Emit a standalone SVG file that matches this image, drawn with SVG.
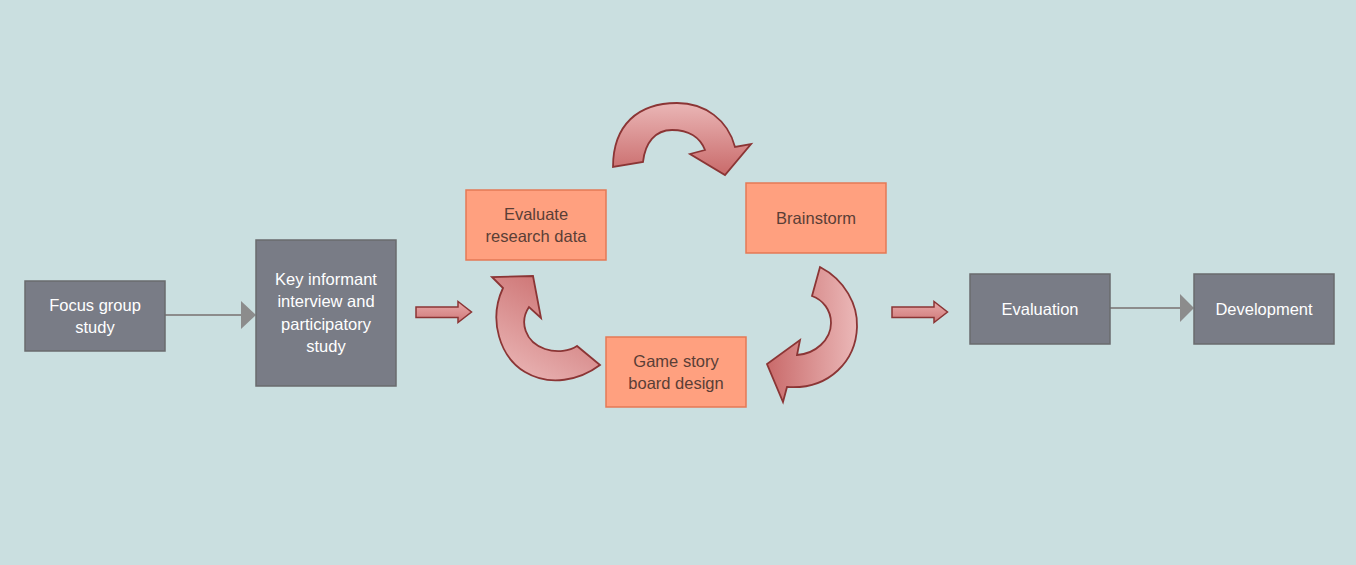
<svg xmlns="http://www.w3.org/2000/svg" width="1356" height="565" viewBox="0 0 1356 565">
<style>
.gbox{fill:#797c86;stroke:#6a6b6d;stroke-width:1.5}
.sbox{fill:#ffa07f;stroke:#e57955;stroke-width:1.5}
.gt{font-family:"Liberation Sans",Arial,sans-serif;font-size:16.5px;fill:#ffffff;text-anchor:middle}
.st{font-family:"Liberation Sans",Arial,sans-serif;font-size:16.5px;fill:#5a3e36;text-anchor:middle}
.conn{stroke:#8c8c8c;stroke-width:2.2;fill:none}
.head{fill:#8c8c8c}
.cyc{stroke:#8b3535;stroke-width:1.8;stroke-linejoin:miter}
.blk{stroke:#8b3535;stroke-width:1.5;fill:url(#gBlk)}
</style>
<defs>
<linearGradient id="gTop" x1="0" y1="0" x2="0" y2="1">
<stop offset="0" stop-color="#eab6b6"/><stop offset="1" stop-color="#c96a6a"/>
</linearGradient>
<linearGradient id="gRight" x1="0" y1="0" x2="1" y2="0">
<stop offset="0" stop-color="#c96a6a"/><stop offset="1" stop-color="#ebb8b8"/>
</linearGradient>
<linearGradient id="gLeft" x1="0.8" y1="0" x2="0.2" y2="1">
<stop offset="0" stop-color="#c96a6a"/><stop offset="1" stop-color="#eab6b6"/>
</linearGradient>
<linearGradient id="gBlk" x1="0" y1="0" x2="0" y2="1">
<stop offset="0" stop-color="#e8aaaa"/><stop offset="1" stop-color="#cf7878"/>
</linearGradient>
</defs>
<rect x="0" y="0" width="1356" height="565" fill="#cadfe0"/>

<g id="connectors">
<line class="conn" x1="165" y1="315" x2="243" y2="315"/>
<polygon class="head" points="241,301 256,315 241,329"/>
<line class="conn" x1="1110" y1="308" x2="1182" y2="308"/>
<polygon class="head" points="1180,294 1194,308 1180,322"/>
<path class="blk" d="M416,307 L458,307 L458,301.5 L471.5,312 L458,322.5 L458,317.5 L416,317.5 Z"/>
<path class="blk" d="M892,307 L934,307 L934,301.5 L947.5,312 L934,322.5 L934,317.5 L892,317.5 Z"/>
<path class="cyc" fill="url(#gTop)" d="M613,167 C613,125 638,103 677,103 C705,103 728,120 735,147 L751,144 L725,175 L690,154 L705,150 C700,137 688,130 672,130 C655,130 645,143 643,162 Z"/>
<path class="cyc" fill="url(#gRight)" d="M820,267 C845,280 858,305 857,327 C856,360 830,390 787,387 L783,402 L767,364 L800,340 L797,355 C815,354 831,340 831,323 C831,310 823,300 812,296 Z"/>
<path class="cyc" fill="url(#gLeft)" d="M600,365 C580,380 550,387 525,372 C500,357 488,320 503,288 L492,277 L533,276 L541,318 L529,307 C519,322 525,342 545,349 C557,353 570,351 577,346 Z"/>
</g>

<g id="focus-group">
<rect class="gbox" x="25" y="281" width="140" height="70"/>
<text class="gt" x="95" y="311">Focus group</text>
<text class="gt" x="95" y="333">study</text>
</g>
<g id="key-informant">
<rect class="gbox" x="256" y="240" width="140" height="146"/>
<text class="gt" x="326" y="285">Key informant</text>
<text class="gt" x="326" y="307">interview and</text>
<text class="gt" x="326" y="330">participatory</text>
<text class="gt" x="326" y="352">study</text>
</g>
<g id="evaluate-research">
<rect class="sbox" x="466" y="190" width="140" height="70"/>
<text class="st" x="536" y="220">Evaluate</text>
<text class="st" x="536" y="242">research data</text>
</g>
<g id="brainstorm">
<rect class="sbox" x="746" y="183" width="140" height="70"/>
<text class="st" x="816" y="224">Brainstorm</text>
</g>
<g id="game-story">
<rect class="sbox" x="606" y="337" width="140" height="70"/>
<text class="st" x="676" y="367">Game story</text>
<text class="st" x="676" y="389">board design</text>
</g>
<g id="evaluation">
<rect class="gbox" x="970" y="274" width="140" height="70"/>
<text class="gt" x="1040" y="315">Evaluation</text>
</g>
<g id="development">
<rect class="gbox" x="1194" y="274" width="140" height="70"/>
<text class="gt" x="1264" y="315">Development</text>
</g>
</svg>
